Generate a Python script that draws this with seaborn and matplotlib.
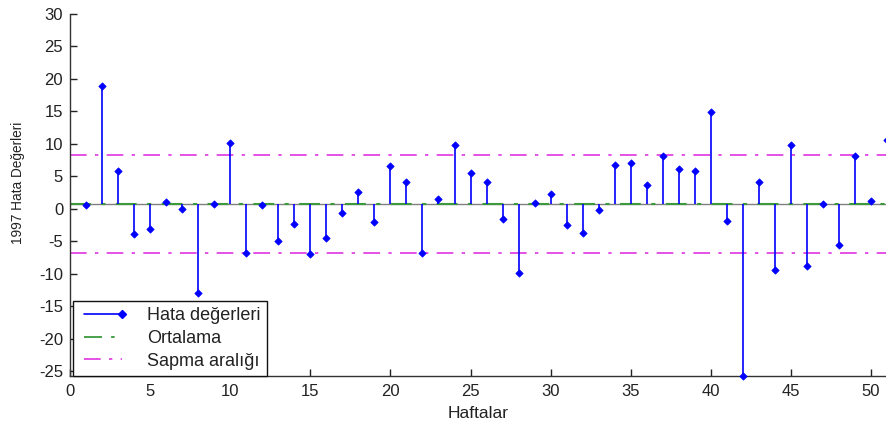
import numpy as np
import pandas as pd
import seaborn as sns
import matplotlib.pyplot as plt
from matplotlib.legend_handler import HandlerLine2D

weeks = list(range(1, 52))
errors = [0.6, 18.9, 5.8, -3.9, -3.1, 1.1, 0.0, -12.9, 0.7, 10.1,
          -6.8, 0.6, -4.9, -2.3, -7.0, -4.4, -0.6, 2.6, -2.0, 6.6,
          4.1, -6.7, 1.5, 9.9, 5.5, 4.1, -1.6, -9.9, 0.9, 2.3,
          -2.5, -3.7, -0.1, 6.8, 7.0, 3.7, 8.2, 6.2, 5.8, 14.9,
          -1.8, -25.7, 4.1, -9.4, 9.9, -8.7, 0.7, -5.6, 8.2, 1.2,
          10.6]
mean_level = 0.8
band_upper = 8.3
band_lower = -6.7

df = pd.DataFrame({"Hafta": weeks, "Hata": errors})


class EndMarkerHandler(HandlerLine2D):
    # marker only at the right end of the legend line, like MATLAB stem
    def create_artists(self, legend, orig_handle, xdescent, ydescent,
                       width, height, fontsize, trans):
        artists = super().create_artists(legend, orig_handle, xdescent, ydescent,
                                         width, height, fontsize, trans)
        for a in artists:
            n = len(a.get_xdata())
            a.set_markevery([n - 1])
        return artists


sns.set_style("ticks")
plt.rcParams['font.family'] = ['Liberation Sans', 'DejaVu Sans']
plt.rcParams['axes.unicode_minus'] = False

fig = plt.figure(figsize=(8.87, 4.28), dpi=100)
ax = fig.add_axes([0.079, 0.1215, 0.921, 0.8458])

dash = (10, 5, 2, 5)
ax.axhline(mean_level, color="#808080", lw=1.0, zorder=1)
ax.axhline(mean_level, color="#3c9a3c", lw=1.5, dashes=dash, zorder=2)
ax.axhline(band_upper, color="#e033e0", lw=1.2, dashes=dash, zorder=2)
ax.axhline(band_lower, color="#e033e0", lw=1.2, dashes=dash, zorder=2)

ax.vlines(df["Hafta"], mean_level, df["Hata"], color="#0000ff", lw=1.2, zorder=3)
sns.scatterplot(data=df, x="Hafta", y="Hata", marker="D", s=14, color="#0000ff",
                edgecolor="#0000ff", linewidth=0.5, ax=ax, zorder=4, clip_on=False)

ax.set_xlim(0, 51)
ax.set_ylim(-25.7, 30)
ax.set_xticks(range(0, 51, 5))
ax.set_yticks(range(-25, 31, 5))
ax.tick_params(direction="in", length=5, width=1, labelsize=12, colors="#222222")
ax.tick_params(axis="x", pad=6)
ax.tick_params(axis="y", pad=5)
for s in ["top", "right"]:
    ax.spines[s].set_visible(False)
for s in ["left", "bottom"]:
    ax.spines[s].set_color("#333333")
    ax.spines[s].set_linewidth(1.0)

ax.set_xlabel("Haftalar", fontsize=12.5, color="#222222", labelpad=5)
ax.set_ylabel("1997 Hata Değerleri", fontsize=9.8, color="#222222")
ax.yaxis.set_label_coords(-0.055, 0.533)

h1 = plt.Line2D([], [], color="#0000ff", lw=1.2, marker="D", markersize=4)
h2 = plt.Line2D([], [], color="#3c9a3c", lw=1.3, dashes=dash)
h3 = plt.Line2D([], [], color="#e033e0", lw=1.2, dashes=dash)
leg = ax.legend([h1, h2, h3], ["Hata değerleri", "Ortalama", "Sapma aralığı"],
                loc="lower left", bbox_to_anchor=(0.003, 0.0), borderaxespad=0.0,
                numpoints=2, handlelength=2.7, handletextpad=1.1,
                labelspacing=0.32, fontsize=13, fancybox=False, framealpha=1,
                edgecolor="#111111", borderpad=0.35,
                handler_map={h1: EndMarkerHandler()})
leg.get_frame().set_linewidth(1.0)
for t in leg.get_texts():
    t.set_color("#222222")

fig.savefig("out.png", dpi=100)
